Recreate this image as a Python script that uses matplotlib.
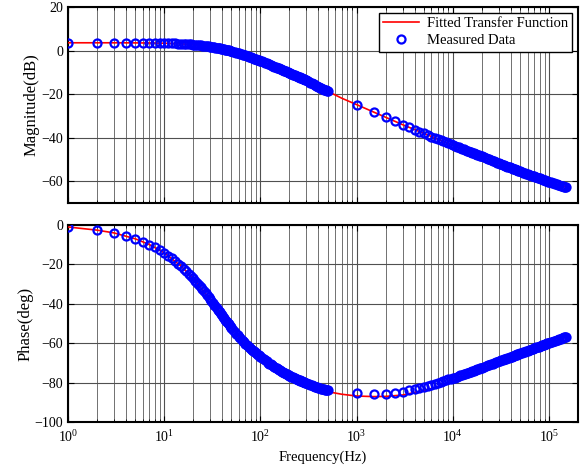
import matplotlib
matplotlib.use("Agg")
import matplotlib.pyplot as plt
from matplotlib.ticker import LogLocator, NullFormatter

plt.rcParams['font.family'] = ['Liberation Serif', 'DejaVu Serif']
plt.rcParams['mathtext.fontset'] = 'custom'
plt.rcParams['mathtext.rm'] = 'Liberation Serif'
plt.rcParams['mathtext.it'] = 'Liberation Serif:italic'

# ---------------- measured data (frequency grid of the measurement) ----------------
meas_freq = (list(range(1, 51)) + list(range(52, 101, 2)) + list(range(104, 201, 4))
             + list(range(205, 301, 5)) + list(range(310, 501, 10))
             + list(range(1000, 20001, 500)) + list(range(21000, 50001, 1000))
             + list(range(52000, 100001, 2000)) + list(range(104000, 148001, 4000))
             + [150000])

meas_mag = [
    # 1..50 Hz
    3.70, 3.69, 3.68, 3.66, 3.64, 3.61, 3.58, 3.54, 3.50, 3.45,
    3.40, 3.34, 3.28, 3.22, 3.15, 3.08, 3.01, 2.94, 2.86, 2.77,
    2.69, 2.60, 2.51, 2.42, 2.33, 2.23, 2.14, 2.04, 1.94, 1.84,
    1.74, 1.63, 1.53, 1.43, 1.32, 1.22, 1.11, 1.01, 0.90, 0.80,
    0.69, 0.58, 0.48, 0.37, 0.27, 0.16, 0.06, -0.05, -0.15, -0.26,
    # 52..100 Hz
    -0.46, -0.67, -0.87, -1.07, -1.27, -1.47, -1.66, -1.85, -2.04, -2.23,
    -2.41, -2.59, -2.77, -2.95, -3.12, -3.29, -3.46, -3.62, -3.79, -3.95,
    -4.11, -4.26, -4.42, -4.57, -4.72,
    # 104..200 Hz
    -4.98, -5.30, -5.58, -5.85, -6.11, -6.36, -6.61, -6.86, -7.09, -7.32,
    -7.55, -7.77, -7.99, -8.20, -8.40, -8.60, -8.80, -8.99, -9.18, -9.37,
    -9.55, -9.73, -9.90, -10.08, -10.24,
    # 205..300 Hz
    -10.45, -10.65, -10.85, -11.04, -11.23, -11.42, -11.60, -11.77, -11.95, -12.12,
    -12.29, -12.45, -12.61, -12.77, -12.93, -13.08, -13.23, -13.38, -13.52, -13.67,
    # 310..500 Hz
    -14.14, -14.43, -14.72, -15.01, -15.28, -15.55, -15.80, -16.05, -16.29, -16.54,
    -16.77, -17.00, -17.22, -17.44, -17.65, -17.86, -18.07, -18.26, -18.46, -18.65,
    # 1000..20000 Hz
    -24.8, -28.2, -30.6, -32.5, -34.0, -35.2, -36.3, -37.2, -38.0, -38.8,
    -39.5, -40.1, -40.7, -41.2, -41.7, -42.2, -42.6, -43.0, -43.4,
    -43.8, -44.1, -44.4, -44.8, -45.1, -45.4, -45.7, -45.95, -46.2, -46.5,
    -46.7, -47.0, -47.2, -47.4, -47.6, -47.8, -48.0, -48.2, -48.4, -48.6,
    # 21000..50000 Hz
    -48.97, -49.32, -49.66, -49.99, -50.30, -50.59, -50.88, -51.16, -51.42, -51.68,
    -51.93, -52.17, -52.40, -52.62, -52.83, -53.04, -53.24, -53.44, -53.63, -53.82,
    -54.00, -54.18, -54.35, -54.52, -54.69, -54.85, -55.01, -55.16, -55.32, -55.46,
    # 52000..100000 Hz
    -55.73, -55.99, -56.25, -56.49, -56.73, -56.95, -57.18, -57.39, -57.60, -57.80,
    -57.99, -58.18, -58.37, -58.55, -58.73, -58.90, -59.06, -59.23, -59.39, -59.54,
    -59.70, -59.85, -59.99, -60.14, -60.28,
    # 104000..150000 Hz
    -60.52, -60.75, -60.97, -61.18, -61.39, -61.59, -61.78, -61.97, -62.15, -62.33,
    -62.50, -62.66, -62.75]

meas_phase = [
    # 1..50 Hz
    -0.9, -2.5, -3.9, -5.4, -6.9, -8.4, -9.9, -11.3, -12.7, -14.1,
    -15.5, -16.9, -18.3, -19.6, -20.9, -22.2, -23.5, -24.7, -25.9, -27.1,
    -28.3, -29.4, -30.5, -31.6, -32.7, -33.7, -34.7, -35.7, -36.7, -37.7,
    -38.6, -39.5, -40.4, -41.2, -42.1, -42.9, -43.7, -44.4, -45.2, -45.9,
    -46.6, -47.3, -48.0, -48.6, -49.3, -49.9, -50.5, -51.1, -51.7, -52.2,
    # 52..100 Hz
    -53.2, -54.2, -55.1, -55.9, -56.7, -57.5, -58.2, -58.9, -59.6, -60.2,
    -60.8, -61.4, -61.9, -62.4, -62.9, -63.4, -63.8, -64.2, -64.6, -65.0,
    -65.4, -65.8, -66.1, -66.5, -66.8,
    # 104..200 Hz
    -67.4, -68.0, -68.6, -69.2, -69.8, -70.3, -70.8, -71.2, -71.6, -72.0,
    -72.4, -72.8, -73.1, -73.4, -73.8, -74.1, -74.4, -74.7, -75.0, -75.2,
    -75.5, -75.7, -76.0, -76.2, -76.5,
    # 205..300 Hz
    -76.7, -77.0, -77.2, -77.4, -77.7, -77.9, -78.1, -78.3, -78.5, -78.7,
    -78.9, -79.1, -79.2, -79.4, -79.6, -79.7, -79.9, -80.0, -80.2, -80.3,
    # 310..500 Hz
    -80.6, -80.8, -81.1, -81.3, -81.6, -81.8, -82.0, -82.2, -82.3, -82.5,
    -82.7, -82.8, -83.0, -83.1, -83.2, -83.4, -83.5, -83.6, -83.7, -83.8,
    # 1000..20000 Hz
    -85.4, -85.9, -85.6, -85.2, -84.6, -84.0, -83.4, -82.8, -82.2, -81.6,
    -81.0, -80.5, -80.0, -79.6, -79.2, -78.8, -78.4, -78.1, -77.8,
    -77.42, -77.05, -76.71, -76.37, -76.06, -75.75, -75.45, -75.17, -74.90, -74.63,
    -74.37, -74.13, -73.89, -73.65, -73.43, -73.20, -72.99, -72.78, -72.58, -72.38,
    # 21000..50000 Hz
    -72.00, -71.63, -71.29, -70.95, -70.64, -70.33, -70.03, -69.75, -69.47, -69.21,
    -68.95, -68.71, -68.47, -68.24, -68.01, -67.79, -67.58, -67.37, -67.16, -66.97,
    -66.77, -66.58, -66.40, -66.22, -66.04, -65.87, -65.71, -65.54, -65.38, -65.22,
    # 52000..100000 Hz
    -64.91, -64.62, -64.33, -64.06, -63.79, -63.54, -63.29, -63.05, -62.82, -62.59,
    -62.37, -62.15, -61.95, -61.74, -61.55, -61.35, -61.16, -60.98, -60.80, -60.62,
    -60.45, -60.28, -60.12, -59.96, -59.80,
    # 104000..150000 Hz
    -59.49, -59.20, -58.91, -58.64, -58.37, -58.12, -57.87, -57.63, -57.40, -57.17,
    -56.95, -56.73, -56.63]

# ---------------- fitted transfer function ----------------
fit_freq = [1, 2, 3, 5, 7, 10, 15, 20, 30, 40, 50, 70, 100, 150, 200, 300,
            500, 700, 1000, 1500, 2000, 3000, 5000, 7000, 10000, 20000,
            30000, 50000, 70000, 100000, 150000]
fit_mag = [3.6, 3.6, 3.6, 3.55, 3.5, 3.4, 3.1, 2.75, 1.8, 0.8, -0.25, -2.2,
           -4.7, -7.8, -10.3, -14.0, -18.65, -21.85, -24.8, -28.2, -30.6, -34.0,
           -38.0, -40.7, -43.4, -48.6, -51.7, -55.5, -57.9, -60.3, -62.75]
fit_phase = [-1.0, -2.6, -4.0, -7.0, -9.9, -14.1, -20.9, -27.1, -37.7, -45.9,
             -52.2, -60.3, -66.9, -73.0, -76.7, -80.8, -84.6, -85.9, -86.8,
             -87.1, -87.0, -86.3, -84.0, -82.0, -79.3, -73.4, -69.8, -65.7,
             -63.0, -60.3, -56.9]

mag_ticks = [-60, -40, -20, 0, 20]
phase_ticks = [-100, -80, -60, -40, -20, 0]

fig = plt.figure(figsize=(5.84, 4.72), dpi=100)
ax1 = fig.add_axes([0.1164, 0.5699, 0.8733, 0.4151])
ax2 = fig.add_axes([0.1164, 0.1059, 0.8733, 0.4174])


def style(ax):
    ax.set_xscale('log')
    ax.set_xlim(1, 2e5)
    ax.xaxis.set_major_locator(LogLocator(base=10, numticks=10))
    ax.xaxis.set_minor_locator(LogLocator(base=10, subs=range(2, 10), numticks=20))
    ax.xaxis.set_minor_formatter(NullFormatter())
    ax.grid(True, which='major', axis='both', color='#505050', linewidth=0.8)
    ax.grid(True, which='minor', axis='x', color='#707070', linewidth=0.7)
    ax.tick_params(which='both', direction='in', top=True, right=True,
                   labelsize=10, colors='black')
    ax.tick_params(which='major', length=4, width=0.8)
    ax.tick_params(which='minor', length=2.5, width=0.6)
    ax.tick_params(axis='x', which='major', pad=5)
    for s in ax.spines.values():
        s.set_linewidth(1.5)
    ax.set_axisbelow(True)


for ax, mv, fv, ticks, lim in [(ax1, meas_mag, fit_mag, mag_ticks, (-70, 20)),
                               (ax2, meas_phase, fit_phase, phase_ticks, (-100, 0))]:
    style(ax)
    ax.plot(fit_freq, fv, color='red', linewidth=1.2,
            label='Fitted Transfer Function', zorder=3)
    ax.plot(meas_freq, mv, linestyle='none', marker='o', markersize=5.8,
            markerfacecolor='none', markeredgecolor='blue', markeredgewidth=1.6,
            label='Measured Data', zorder=4)
    ax.set_ylim(*lim)
    ax.set_yticks(ticks)

ax1.tick_params(axis='x', which='both', labelbottom=False)
ax1.set_ylabel('Magnitude(dB)', fontsize=12, labelpad=1)
ax2.set_ylabel('Phase(deg)', fontsize=12, labelpad=1)
ax2.set_xlabel('Frequency(Hz)', fontsize=10.5, labelpad=4)

leg = ax1.legend(loc='upper right', fontsize=10.5, frameon=True, fancybox=False,
                 edgecolor='black', framealpha=1, borderaxespad=0.4,
                 handlelength=2.5, handletextpad=0.5, borderpad=0.3,
                 labelspacing=0.25)
leg.get_frame().set_linewidth(1.0)

fig.savefig('out.png', dpi=100)
